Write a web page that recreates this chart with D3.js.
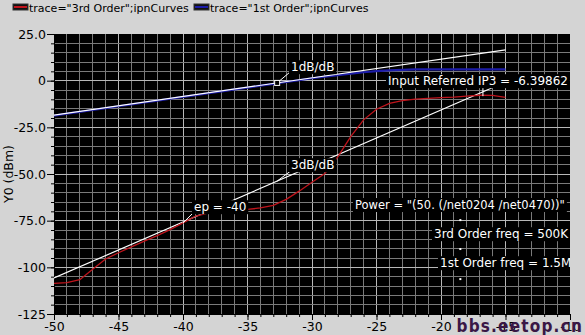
<!DOCTYPE html>
<html>
<head>
<meta charset="utf-8">
<script src="https://cdn.jsdelivr.net/npm/d3@7"></script>
<style>
  body { margin: 0; background: #d4d4d4; }
  svg { display: block; font-family: "DejaVu Sans", Verdana, sans-serif; }
</style>
</head>
<body>
<svg id="chart" width="585" height="335"></svg>
<script>
// input power sweep (dBm)
let pin = [-50, -49, -48, -47, -46, -45, -44, -43, -42, -41, -40, -39, -38, -37, -36, -35, -34, -33,
           -32, -31, -30, -29, -28, -27, -26, -25, -24, -23, -22, -21, -20, -19, -18, -17, -16, -15];

// 3rd order output (dBm)
let thirdOrder = [-108.6, -108.2, -106.6, -101.0, -95.5, -92.2, -89.0, -86.0, -83.0, -79.8, -76.2, -72.5,
                  -70.8, -70.0, -69.5, -69.0, -68.2, -66.8, -63.6, -59.2, -54.4, -49.7, -40.8, -30.0,
                  -21.0, -15.3, -12.2, -10.7, -9.9, -9.5, -9.1, -8.8, -8.3, -7.8, -7.9, -9.0];

// 1st order output (dBm)
let firstOrder = [-18.7, -17.7, -16.7, -15.7, -14.7, -13.7, -12.7, -11.7, -10.7, -9.7, -8.7, -7.7,
                  -6.7, -5.7, -4.7, -3.7, -2.7, -1.7, -0.7, 0.3, 1.3, 2.2, 3.0, 3.8,
                  4.5, 5.1, 5.5, 5.8, 6.0, 6.1, 6.1, 6.1, 6.1, 6.0, 6.0, 6.0];

// extrapolated lines (end points)
let oneDbLine = [[-50, -18.5], [-15, 16.5]];
let threeDbLine = [[-50, -105.7], [-15, -0.7]];

// axis ticks
let xTicks = [-50, -45, -40, -35, -30, -25, -20, -15, -10];
let xTickLabels = ['-50', '-45', '-40', '-35', '-30', '-25', '-20', '-15', '-10'];
let yTicks = [25, 0, -25, -50, -75, -100, -125];
let yTickLabels = ['25.0', '0', '-25.0', '-50.0', '-75.0', '-100', '-125'];

let legendNames = ['trace="3rd Order";ipnCurves', 'trace="1st Order";ipnCurves'];
let legendColors = ['#c0141c', '#1c1ca8'];

let svg = d3.select('#chart');

// plot area
let pLeft = 54, pRight = 570, pTop = 34, pBottom = 314;
let x = d3.scaleLinear().domain([-50, -10]).range([pLeft, pRight]);
let y = d3.scaleLinear().domain([-125, 25]).range([pBottom, pTop]);

svg.append('defs').append('clipPath').attr('id', 'plotClip')
  .append('rect').attr('x', pLeft).attr('y', pTop).attr('width', pRight - pLeft).attr('height', pBottom - pTop);

svg.append('rect')
  .attr('x', pLeft).attr('y', pTop)
  .attr('width', pRight - pLeft).attr('height', pBottom - pTop)
  .attr('fill', '#000');

// grid - minor lines every 1 dB in x, 5 dB in y ; brighter on the labelled ticks
let grid = svg.append('g').attr('shape-rendering', 'crispEdges');
let xGrid = d3.range(-49, -10);
let yGrid = d3.range(-120, 25, 5);

grid.selectAll('.vx').data(xGrid).join('line')
  .attr('x1', d => x(d)).attr('x2', d => x(d))
  .attr('y1', pTop).attr('y2', pBottom)
  .attr('stroke', d => d % 5 === 0 ? '#b8b8b8' : '#7a7a7a');

grid.selectAll('.hy').data(yGrid).join('line')
  .attr('y1', d => y(d)).attr('y2', d => y(d))
  .attr('x1', pLeft).attr('x2', pRight)
  .attr('stroke', d => d % 25 === 0 ? '#b8b8b8' : '#7a7a7a');

// axes
let axisFont = '12.5px';
let xMinor = svg.append('g').attr('transform', `translate(0,${pBottom})`)
  .call(d3.axisBottom(x).tickValues(d3.range(-50, -9)).tickSize(3).tickFormat(''));
let xMajor = svg.append('g').attr('transform', `translate(0,${pBottom})`)
  .call(d3.axisBottom(x).tickValues(xTicks).tickSize(6).tickPadding(2)
        .tickFormat((d, i) => xTickLabels[i]));
let yMinor = svg.append('g').attr('transform', `translate(${pLeft},0)`)
  .call(d3.axisLeft(y).tickValues(d3.range(-125, 26, 5)).tickSize(3).tickFormat(''));
let yMajor = svg.append('g').attr('transform', `translate(${pLeft},0)`)
  .call(d3.axisLeft(y).tickValues(yTicks).tickSize(7).tickPadding(1)
        .tickFormat((d, i) => yTickLabels[i]));

[xMinor, xMajor, yMinor, yMajor].forEach(g => {
  g.select('.domain').attr('stroke', '#000');
  g.selectAll('.tick line').attr('stroke', '#000');
  g.selectAll('text').attr('fill', '#000').style('font-size', axisFont)
    .style('font-family', '"DejaVu Sans", Verdana, sans-serif');
});

svg.append('text')
  .attr('transform', `translate(13,${(pTop + pBottom) / 2}) rotate(-90)`)
  .attr('text-anchor', 'middle')
  .style('font-size', '12.5px')
  .text('Y0 (dBm)');

// traces
let plot = svg.append('g').attr('clip-path', 'url(#plotClip)');

let line = d3.line().x(d => x(d[0])).y(d => y(d[1]));

plot.append('path')
  .datum(pin.map((p, i) => [p, firstOrder[i]]))
  .attr('d', line).attr('fill', 'none')
  .attr('stroke', legendColors[1]).attr('stroke-width', 2.2);

plot.append('path')
  .datum(oneDbLine)
  .attr('d', line).attr('fill', 'none')
  .attr('stroke', '#fff').attr('stroke-width', 1.2);

plot.append('path')
  .datum(threeDbLine)
  .attr('d', line).attr('fill', 'none')
  .attr('stroke', '#fff').attr('stroke-width', 1.2);

plot.append('path')
  .datum(pin.map((p, i) => [p, thirdOrder[i]]))
  .attr('d', line).attr('fill', 'none')
  .attr('stroke', legendColors[0]).attr('stroke-width', 1.3);

// labels with black boxes
let labelSize = '11.5px';
function addLabel(txt, px, py, size) {
  let g = plot.append('g');
  let t = g.append('text')
    .attr('x', px).attr('y', py)
    .attr('dy', '0.35em')
    .attr('fill', '#fff')
    .style('font-size', size || labelSize)
    .text(txt);
  let b = t.node().getBBox();
  g.insert('rect', 'text')
    .attr('x', b.x - 2).attr('y', b.y)
    .attr('width', b.width + 4).attr('height', b.height)
    .attr('fill', '#000');
}

function leader(ax, ay, px, py) {
  plot.append('line')
    .attr('x1', x(ax)).attr('y1', y(ay))
    .attr('x2', px).attr('y2', py)
    .attr('stroke', '#fff').attr('stroke-width', 1);
}

// 1dB/dB
leader(-32.7, -1.2, 290, 72);
plot.append('rect')
  .attr('x', x(-32.7) - 2.5).attr('y', y(-1.2) - 2.5)
  .attr('width', 5).attr('height', 5)
  .attr('fill', '#000').attr('stroke', '#fff');
addLabel('1dB/dB', 291, 67, '12px');

// 3dB/dB
leader(-32.7, -53.8, 292, 170);
addLabel('3dB/dB', 291, 165, '12px');

// ep = -40
leader(-40, -76.2, 194, 212);
addLabel('ep = -40', 194, 207, '12px');

// IP3
leader(-16.75, -8.3, x(-16.75), 86);
addLabel('Input Referred IP3 = -6.39862', 388, 81, '12px');

// sweep info
addLabel('Power = "(50. (/net0204 /net0470))"', 355, 205);
addLabel('3rd Order freq = 500K', 434, 234, '12px');
addLabel('1st Order freq = 1.5M', 440, 263, '12px');
[-74.7, -90.2, -106.3].forEach(v => {
  plot.append('rect')
    .attr('x', x(-18.5) - 1).attr('y', y(v) - 1)
    .attr('width', 2).attr('height', 2)
    .attr('fill', '#fff');
});

// legend
let legend = svg.append('g');
let legendX = [13, 194];
legendNames.forEach((name, i) => {
  let g = legend.append('g').attr('transform', `translate(${legendX[i]},4)`);
  g.append('rect').attr('width', 15).attr('height', 6)
    .attr('fill', '#111').attr('stroke', '#333');
  g.append('line').attr('x1', 1).attr('x2', 14).attr('y1', 3).attr('y2', 3)
    .attr('stroke', legendColors[i]).attr('stroke-width', 2);
  g.append('text').attr('x', 16).attr('y', 8)
    .style('font-size', '11px')
    .attr('fill', '#000')
    .text(name);
});

// watermark
svg.append('text')
  .attr('x', 583).attr('y', 332)
  .attr('text-anchor', 'end')
  .attr('fill', '#3a1746')
  .style('font-size', '17px')
  .style('font-weight', 'bold')
  .style('letter-spacing', '1.2px')
  .style('font-family', '"DejaVu Sans Condensed", "DejaVu Sans", sans-serif')
  .text('bbs.eetop.cn');
</script>
</body>
</html>
